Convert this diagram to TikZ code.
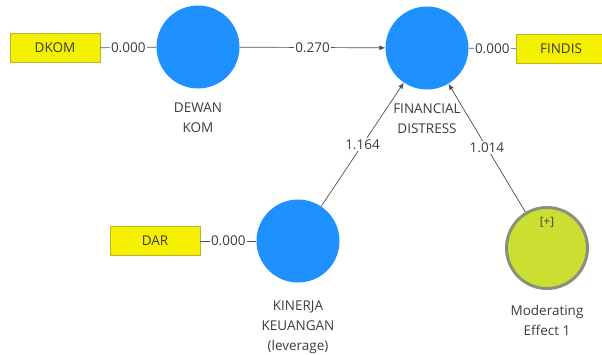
\documentclass[tikz,border=0pt]{standalone}
\usepackage{fontspec}
\setmainfont{Open Sans}
\usetikzlibrary{positioning,arrows.meta}
\definecolor{plsblue}{RGB}{30,144,255}
\definecolor{plsyellow}{RGB}{245,240,0}
\definecolor{plsborder}{RGB}{185,180,40}
\definecolor{plsgreen}{RGB}{205,222,50}
\definecolor{plsgray}{RGB}{135,145,125}
\definecolor{plstext}{RGB}{60,60,60}
\begin{document}
\begin{tikzpicture}[x=1pt,y=-1pt,
    font=\fontsize{13.5}{20}\selectfont, text=plstext,
    latent/.style={circle,fill=plsblue,minimum size=83pt,inner sep=0pt},
    moderator/.style={circle,fill=plsgreen,draw=plsgray,line width=3pt,minimum size=81pt,inner sep=0pt},
    indicator/.style={rectangle,fill=plsyellow,draw=plsborder,minimum width=90pt,minimum height=29pt,inner sep=0pt},
    caption/.style={align=center,inner sep=0pt},
    path/.style={draw=plstext!90,line width=0.7pt},
    weight/.style={fill=white,inner sep=1.5pt}]
	\useasboundingbox (0,0) rectangle (602,354);
	% constructs
	\node[latent] (dewan) at (198,47) {};
	\node[latent] (fd) at (427,48) {};
	\node[latent] (kinerja) at (298,241) {};
	\node[moderator] (mod) at (547,248) {};
	\node[font=\fontsize{11.5}{12}\selectfont] (plus) at (547,222) {[+]};
	% captions
	\node[caption,below=14pt of dewan] (dewanlbl) {DEWAN\\KOM};
	\node[caption,below=14pt of fd] (fdlbl) {FINANCIAL\\DISTRESS};
	\node[caption,below=18pt of kinerja] (kinerjalbl) {KINERJA\\KEUANGAN\\(leverage)};
	\node[caption,below=15pt of mod] (modlbl) {Moderating\\Effect 1};
	% indicators
	\node[indicator] (dkom) at (55,48) {DKOM};
	\node[indicator] (findis) at (561,49) {FINDIS};
	\node[indicator] (dar) at (155,241) {DAR};
	% loadings
	\draw[path] (dkom) -- node[weight] (l1) {0.000} (dewan);
	\draw[path] (fd) -- node[weight] (l2) {0.000} (findis);
	\draw[path] (dar) -- node[weight] (l3) {0.000} (kinerja);
	% structural paths
	\draw[path,-{Latex[length=6pt,width=5pt]}] (dewan) -- node[weight] (b1) {0.270} (fd);
	\draw[path,-{Latex[length=6pt,width=5pt]}] (kinerja) -- node[weight] (b2) {1.164} (fd);
	\draw[path,-{Latex[length=6pt,width=5pt]}] (mod) -- node[weight] (b3) {1.014} (fd);
\end{tikzpicture}
\end{document}
